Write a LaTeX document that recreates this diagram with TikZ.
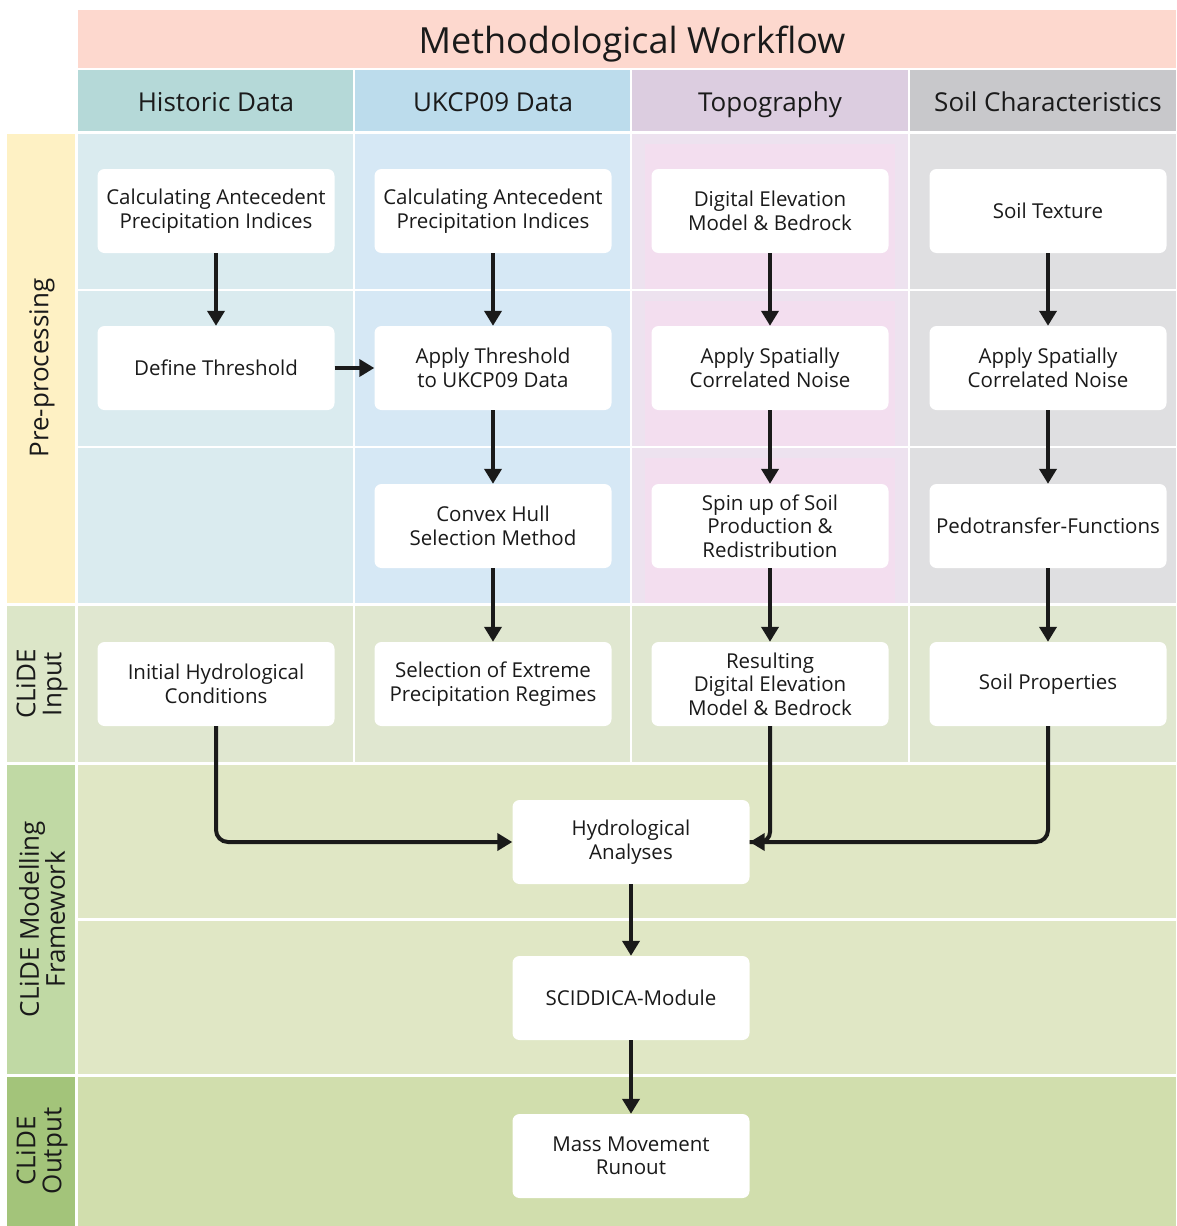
\documentclass[tikz,border=0pt]{standalone}
\usepackage{fontspec}
\setmainfont{Open Sans}
\usetikzlibrary{arrows.meta}
\definecolor{ctitle}{HTML}{FDD8CE}
\definecolor{hHist}{HTML}{B5D9D8}
\definecolor{hUK}{HTML}{BCDCEC}
\definecolor{hTopo}{HTML}{DCCDE0}
\definecolor{hSoil}{HTML}{C8C8CB}
\definecolor{cHist}{HTML}{DAEBEF}
\definecolor{cUK}{HTML}{D6E8F5}
\definecolor{cTopo}{HTML}{EDE2EF}
\definecolor{cTopoIn}{HTML}{F3DEEF}
\definecolor{cSoil}{HTML}{DFDFE1}
\definecolor{lPre}{HTML}{FEF1C4}
\definecolor{lIn}{HTML}{DCE6C8}
\definecolor{cIn}{HTML}{E0E7D0}
\definecolor{lMod}{HTML}{C0D9A4}
\definecolor{cMod}{HTML}{E0E7C5}
\definecolor{lOut}{HTML}{A3C47A}
\definecolor{cOut}{HTML}{D1DEAD}
\definecolor{ink}{HTML}{1A1A1A}
\begin{document}
\begin{tikzpicture}[x=1pt,y=-1pt,
  box/.style={fill=white, rounded corners=7pt, minimum width=237pt, minimum height=84pt,
    align=center, inner sep=2pt, text=ink, font=\fontsize{20.5}{23.5}\selectfont},
  arr/.style={draw=ink, line width=4pt, -{Triangle[length=15pt,width=17pt]}},
  lin/.style={draw=ink, line width=4pt},
  hdr/.style={text=ink, anchor=base, font=\fontsize{26}{30}\selectfont},
  side/.style={text=ink, rotate=90, align=center, font=\fontsize{26}{26}\selectfont}]
\useasboundingbox (0,0) rectangle (1176,1226);
\fill[white] (0,0) rectangle (1176,1226);
% title
\fill[ctitle] (78,10) rectangle (1176,68);
\node[text=ink, anchor=base, font=\fontsize{36}{40}\selectfont] (title) at (632,53) {Methodological Workflow};
% headers
\fill[hHist] (78,70) rectangle (353,131);
\fill[hUK] (355,70) rectangle (630,131);
\fill[hTopo] (632,70) rectangle (908,131);
\fill[hSoil] (910,70) rectangle (1176,131);
\node[hdr] (th1) at (216,111) {Historic Data};
\node[hdr] (th2) at (493,111) {UKCP09 Data};
\node[hdr] (th3) at (770,111) {Topography};
\node[hdr] (th4) at (1048,111) {Soil Characteristics};
% side labels
\fill[lPre] (7,134) rectangle (75,603);
\fill[lIn] (7,606) rectangle (75,762);
\fill[lMod] (7,765) rectangle (75,1074);
\fill[lOut] (7,1077) rectangle (75,1226);
\node[side] (sl1) at (42,368) {Pre-processing};
\node[side] (sl2) at (42,684) {CLiDE\\Input};
\node[side] (sl3) at (42,919) {CLiDE Modelling\\Framework};
\node[side] (sl4) at (42,1151) {CLiDE\\Output};
% pre-processing cells
\foreach \ya/\yb in {134/289, 291/446, 448/603}{
  \fill[cHist] (78,\ya) rectangle (353,\yb);
  \fill[cUK] (355,\ya) rectangle (630,\yb);
  \fill[cTopo] (632,\ya) rectangle (908,\yb);
  \fill[cTopoIn] (645,\ya+10) rectangle (895,\yb);
  \fill[cSoil] (910,\ya) rectangle (1176,\yb);
}
% input row
\foreach \xa/\xb in {78/353, 355/630, 632/908, 910/1176}{
  \fill[cIn] (\xa,606) rectangle (\xb,762);
}
% modelling and output
\fill[cMod] (78,765) rectangle (1176,918);
\fill[cMod] (78,921) rectangle (1176,1074);
\fill[cOut] (78,1077) rectangle (1176,1226);
% boxes
\node[box] (h1) at (216,211) {Calculating Antecedent\\Precipitation Indices};
\node[box] (u1) at (493,211) {Calculating Antecedent\\Precipitation Indices};
\node[box] (t1) at (770,211) {Digital Elevation\\Model \& Bedrock};
\node[box] (s1) at (1048,211) {Soil Texture};
\node[box] (h2) at (216,368) {Define Threshold};
\node[box] (u2) at (493,368) {Apply Threshold\\to UKCP09 Data};
\node[box] (t2) at (770,368) {Apply Spatially\\Correlated Noise};
\node[box] (s2) at (1048,368) {Apply Spatially\\Correlated Noise};
\node[box] (u3) at (493,526) {Convex Hull\\Selection Method};
\node[box] (t3) at (770,526) {Spin up of Soil\\Production \&\\Redistribution};
\node[box] (s3) at (1048,526) {Pedotransfer-Functions};
\node[box] (h4) at (216,684) {Initial Hydrological\\Conditions};
\node[box] (u4) at (493,684) {Selection of Extreme\\Precipitation Regimes};
\node[box] (t4) at (770,684) {Resulting\\Digital Elevation\\Model \& Bedrock};
\node[box] (s4) at (1048,684) {Soil Properties};
\node[box] (hy) at (631,842) {Hydrological\\Analyses};
\node[box] (sc) at (631,998) {SCIDDICA-Module};
\node[box] (mm) at (631,1156) {Mass Movement\\Runout};
% arrows
\draw[arr] (h1) -- (h2);
\draw[arr] (h2) -- (u2);
\draw[arr] (u1) -- (u2);
\draw[arr] (u2) -- (u3);
\draw[arr] (u3) -- (u4);
\draw[arr] (t1) -- (t2);
\draw[arr] (t2) -- (t3);
\draw[arr] (t3) -- (t4);
\draw[arr] (s1) -- (s2);
\draw[arr] (s2) -- (s3);
\draw[arr] (s3) -- (s4);
\draw[arr, rounded corners=12pt] (h4.south) |- (hy.west);
\draw[lin, rounded corners=10pt] (t4.south) |- (hy.east);
\draw[arr, rounded corners=12pt] (s4.south) |- (hy.east);
\draw[arr] (hy) -- (sc);
\draw[arr] (sc) -- (mm);
\end{tikzpicture}
\end{document}
